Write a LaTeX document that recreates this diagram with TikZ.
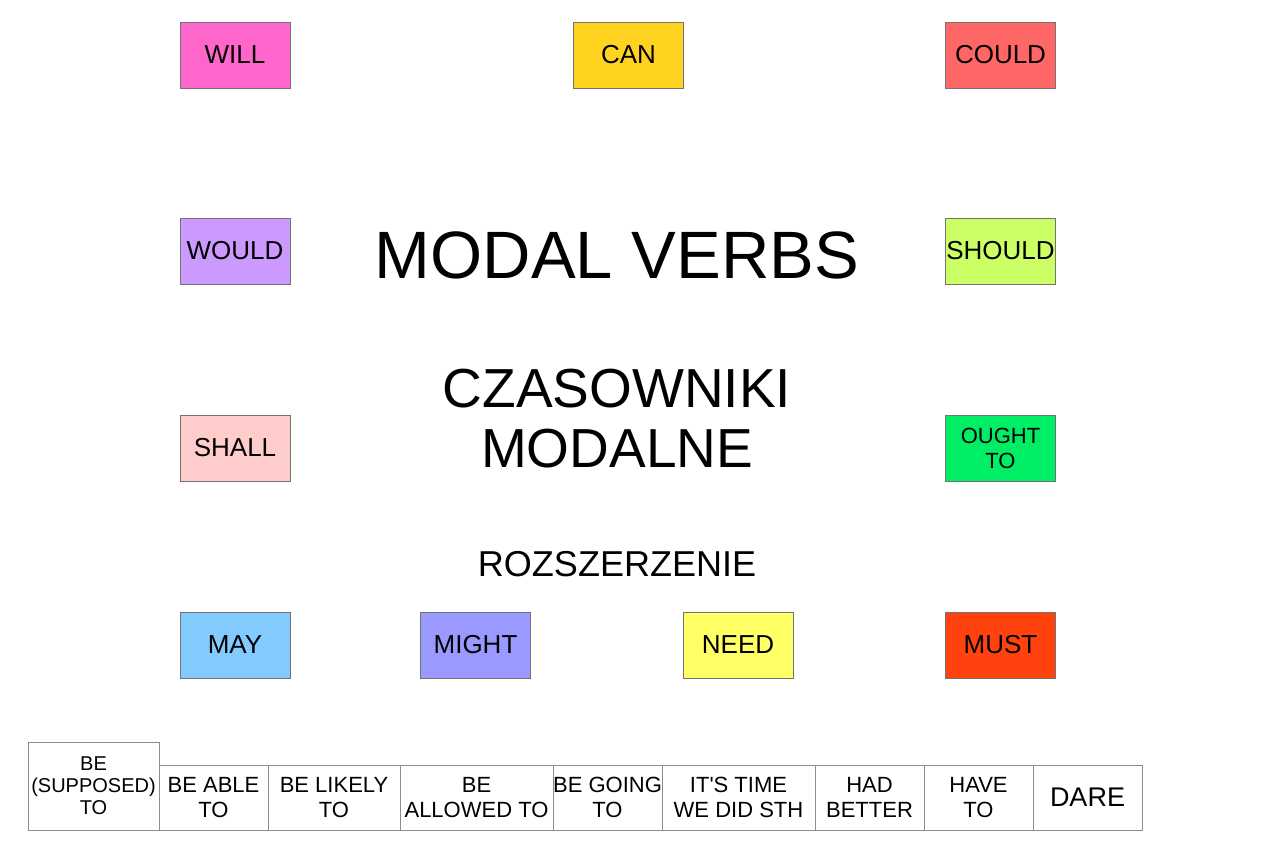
\documentclass[tikz,border=0pt]{standalone}
\usepackage{fontspec}
\setmainfont{Liberation Sans}
\definecolor{willc}{HTML}{FF66CC}
\definecolor{canc}{HTML}{FFD320}
\definecolor{couldc}{HTML}{FF6666}
\definecolor{wouldc}{HTML}{CC99FF}
\definecolor{shouldc}{HTML}{CCFF66}
\definecolor{shallc}{HTML}{FFCCCC}
\definecolor{oughtc}{HTML}{00EE66}
\definecolor{mayc}{HTML}{83CAFF}
\definecolor{mightc}{HTML}{9999FF}
\definecolor{needc}{HTML}{FFFF66}
\definecolor{mustc}{HTML}{FF420E}
\begin{document}
\begin{tikzpicture}[x=1pt,y=-1pt,
  modal/.style={draw=black!55, line width=1pt, minimum width=110pt,
    minimum height=66pt, inner sep=0pt, align=center,
    font=\fontsize{26}{25}\selectfont},
  phrase/.style={draw=black!45, line width=1pt, minimum height=65pt,
    inner sep=0pt, align=center, font=\fontsize{22}{25}\selectfont}]
  \useasboundingbox (0,0) rectangle (1280,863);
  % modal verbs
  \node[modal, fill=willc] (will) at (235,55) {WILL};
  \node[modal, fill=canc] (can) at (628.5,55) {CAN};
  \node[modal, fill=couldc] (could) at (1000.5,55) {COULD};
  \node[modal, fill=wouldc] (would) at (235,251) {WOULD};
  \node[modal, fill=shouldc] (should) at (1000.5,251) {SHOULD};
  \node[modal, fill=shallc] (shall) at (235,448) {SHALL};
  \node[modal, fill=oughtc, font=\fontsize{22}{25}\selectfont] (ought) at (1000.5,448) {OUGHT\\TO};
  \node[modal, fill=mayc] (may) at (235,645) {MAY};
  \node[modal, fill=mightc] (might) at (475.5,645) {MIGHT};
  \node[modal, fill=needc] (need) at (738,645) {NEED};
  \node[modal, fill=mustc] (must) at (1000.5,645) {MUST};
  % titles
  \node[font=\fontsize{67}{70}\selectfont] (title) at (617,255) {MODAL VERBS};
  \node[font=\fontsize{55}{60}\selectfont, align=center] (czas) at (617,419) {CZASOWNIKI\\MODALNE};
  \node[font=\fontsize{36}{40}\selectfont] (roz) at (617,564) {ROZSZERZENIE};
  % phrases
  \node[phrase, minimum width=131pt, minimum height=88pt,
    font=\fontsize{20}{22}\selectfont] (supposed) at (93.5,786) {BE\\(SUPPOSED)\\TO};
  \node[phrase, minimum width=109pt] (able) at (213.5,797.5) {BE ABLE\\TO};
  \node[phrase, minimum width=132pt] (likely) at (334,797.5) {BE LIKELY\\TO};
  \node[phrase, minimum width=153pt] (allowed) at (476.5,797.5) {BE\\ALLOWED TO};
  \node[phrase, minimum width=109pt] (going) at (607.5,797.5) {BE GOING\\TO};
  \node[phrase, minimum width=153pt] (time) at (738.5,797.5) {IT\textquotesingle S TIME\\WE DID STH};
  \node[phrase, minimum width=109pt] (better) at (869.5,797.5) {HAD\\BETTER};
  \node[phrase, minimum width=109pt] (have) at (978.5,797.5) {HAVE\\TO};
  \node[phrase, minimum width=109pt, font=\fontsize{27}{30}\selectfont] (dare) at (1087.5,797.5) {DARE};
\end{tikzpicture}
\end{document}
